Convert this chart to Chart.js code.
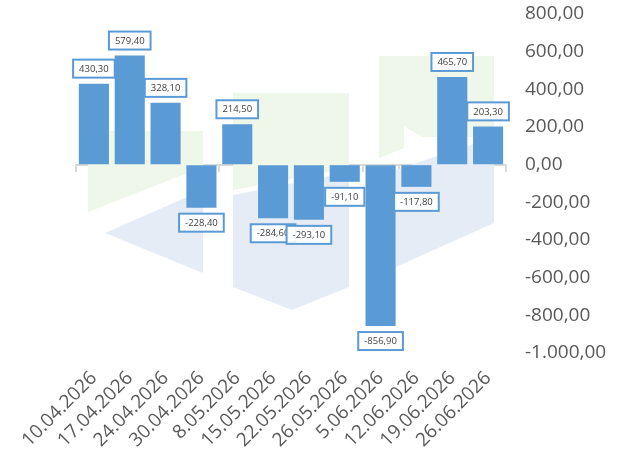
<!DOCTYPE html>
<html>
<head>
<meta charset="utf-8">
<script src="https://cdn.jsdelivr.net/npm/chart.js@4/dist/chart.umd.min.js"></script>
<style>
  html, body { margin: 0; padding: 0; background: #ffffff; }
  #wrap { width: 632px; height: 465px; }
</style>
</head>
<body>
<div id="wrap"><canvas id="grafico" width="632" height="465"></canvas></div>
<script>
// --- dados ---
const datas = ['10.04.2026', '17.04.2026', '24.04.2026', '30.04.2026', '8.05.2026', '15.05.2026',
    '22.05.2026', '26.05.2026', '5.06.2026', '12.06.2026', '19.06.2026', '26.06.2026'];
const valores = [430.3, 579.4, 328.1, -228.4, 214.5, -284.6, -293.1, -91.1, -856.9, -117.8, 465.7, 203.3];
const eixoMin = -1000;
const eixoMax = 800;
const eixoPasso = 200;

const azul = '#5b9bd5';
const cinzaTexto = '#595959';
const fonte = "'Open Sans', 'Noto Sans', sans-serif";

// formata 1000.5 -> "1.000,50"
function formatarNumero(v) {
    const neg = v < 0;
    const partes = Math.abs(v).toFixed(2).split('.');
    const inteiro = partes[0].replace(/\B(?=(\d{3})+(?!\d))/g, '.');
    return (neg ? '-' : '') + inteiro + ',' + partes[1];
}

// marca d'água ao fundo (decoração, não dados)
const marcaDagua = {
    id: 'marcaDagua',
    beforeDatasetsDraw(chart) {
        const ctx = chart.ctx;
        const poly = (pts, cor) => {
            ctx.beginPath();
            ctx.moveTo(pts[0][0], pts[0][1]);
            for (let i = 1; i < pts.length; i++) ctx.lineTo(pts[i][0], pts[i][1]);
            ctx.closePath();
            ctx.fillStyle = cor;
            ctx.fill();
        };
        ctx.save();
        const verde = '#eff6ea';
        const azulClaro = '#e6ecf6';
        poly([[88, 131], [203, 131], [203, 167], [88, 212]], verde);
        poly([[233, 93], [349, 93], [349, 168], [233, 190]], verde);
        poly([[379, 56], [494, 56], [494, 137], [422, 137], [404, 126], [404, 148], [379, 158]], verde);
        poly([[105, 233], [203, 190], [203, 273]], azulClaro);
        poly([[233, 195], [349, 172], [349, 287], [292, 310], [233, 287]], azulClaro);
        poly([[396, 170], [494, 137], [494, 223], [396, 267]], azulClaro);
        ctx.restore();
    }
};

// rótulos em caixas com borda azul
const rotulosCaixa = {
    id: 'rotulosCaixa',
    afterDatasetsDraw(chart) {
        const ctx = chart.ctx;
        const meta = chart.getDatasetMeta(0);
        ctx.save();
        ctx.font = '9.5px ' + fonte;
        ctx.textAlign = 'center';
        ctx.textBaseline = 'middle';
        meta.data.forEach((bar, i) => {
            const v = valores[i];
            const txt = formatarNumero(v);
            const w = ctx.measureText(txt).width + 12;
            const h = 18;
            const y = v >= 0 ? bar.y - 6 - h : bar.y + 6;
            const x = bar.x - w / 2;
            ctx.fillStyle = 'rgba(255,255,255,0.92)';
            ctx.fillRect(x, y, w, h);
            ctx.strokeStyle = azul;
            ctx.lineWidth = 2;
            ctx.strokeRect(x, y, w, h);
            ctx.fillStyle = '#404040';
            ctx.fillText(txt, bar.x, y + h / 2 + 0.5);
        });
        ctx.restore();
    }
};

new Chart(document.getElementById('grafico'), {
    type: 'bar',
    data: {
        labels: datas,
        datasets: [{
            data: valores,
            backgroundColor: azul,
            borderWidth: 0,
            barPercentage: 0.84,
            categoryPercentage: 1
        }]
    },
    options: {
        responsive: false,
        animation: false,
        layout: { padding: { top: 14, left: 76, right: 0, bottom: 0 } },
        plugins: {
            legend: { display: false },
            tooltip: { enabled: false }
        },
        scales: {
            x: {
                grid: { display: false },
                border: { display: false },
                ticks: {
                    color: cinzaTexto,
                    font: { family: fonte, size: 19 },
                    minRotation: 45,
                    maxRotation: 45,
                    padding: 6,
                    autoSkip: false
                },
                afterFit: s => { s.height = 112; }
            },
            zero: {
                type: 'category',
                axis: 'x',
                position: { y: 0 },
                offset: true,
                grid: { display: true, offset: true, drawOnChartArea: false, drawTicks: true, tickLength: 6, color: '#d9d9d9', lineWidth: 2 },
                border: { display: true, color: '#d9d9d9', width: 2 },
                ticks: { display: false },
                afterFit: s => { s.height = 0; }
            },
            y: {
                position: 'right',
                min: eixoMin,
                max: eixoMax,
                // marcas invisíveis só para afastar os rótulos da área do gráfico
                grid: { display: true, drawOnChartArea: false, drawTicks: true, tickLength: 19, color: 'rgba(0,0,0,0)' },
                border: { display: false },
                ticks: {
                    stepSize: eixoPasso,
                    color: cinzaTexto,
                    font: { family: fonte, size: 19 },
                    padding: 0,
                    callback: v => formatarNumero(v)
                },
                afterFit: s => { s.width = 126; }
            }
        }
    },
    plugins: [marcaDagua, rotulosCaixa]
});
</script>
</body>
</html>
